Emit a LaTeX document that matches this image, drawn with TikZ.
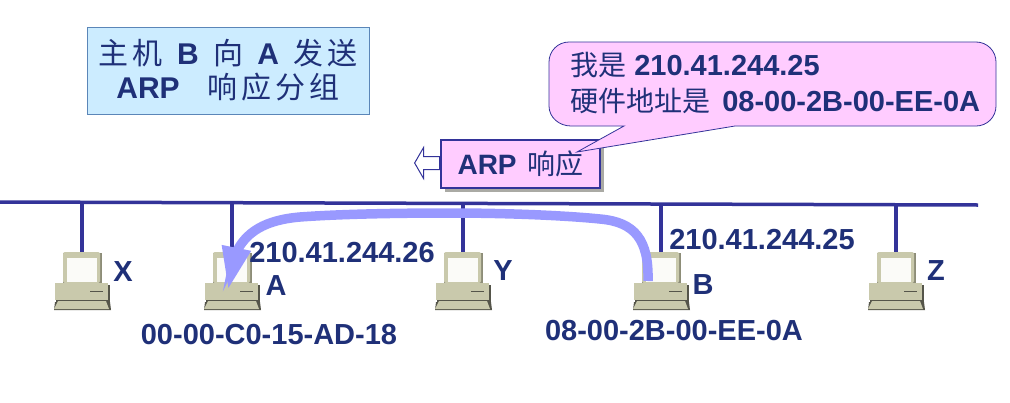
\documentclass[tikz,border=0pt]{standalone}
\usepackage{fontspec}
\setmainfont{Liberation Sans}
\newfontfamily\cjk{Noto Sans CJK SC}
\newfontfamily\cjkwide[LetterSpace=14]{Noto Sans CJK SC}
\usetikzlibrary{arrows.meta,shapes.arrows}
\newcommand{\zh}[1]{{\cjk\mdseries #1}}
\newcommand{\zhwide}[1]{{\cjkwide\mdseries #1}}
\definecolor{navy}{HTML}{1F3078}
\definecolor{busblue}{HTML}{333399}
\definecolor{flowblue}{HTML}{9999FF}
\definecolor{pinkfill}{HTML}{FFCCFF}
\definecolor{skyfill}{HTML}{CCECFF}
\definecolor{skyline}{HTML}{5B86B8}
\definecolor{pcbeige}{HTML}{C9C9AC}
\definecolor{pcdark}{HTML}{55554A}
\tikzset{
    label/.style={text=navy,font=\fontsize{29}{34}\selectfont\bfseries,inner sep=0pt},
    busline/.style={draw=busblue,line width=3.5pt},
    flowline/.style={draw=flowblue,line width=9.5pt,-{Triangle[length=43pt,width=27pt]}},
    pc/.pic={
        \fill[pcdark] (-27,50) -- (28,50) -- (29,58) -- (-28,58) -- cycle;
        \fill[pcdark] (-26,33) rectangle (28,50);
        \fill[pcbeige!70!black] (-19,1) rectangle (20,31);
        \fill[pcbeige,rounded corners=2pt] (-19,0) rectangle (18,31);
        \fill[white!92!pcbeige] (-15,6) rectangle (15,30);
        \fill[pcbeige] (-27,31) rectangle (26,48);
        \draw[pcdark,line width=1pt] (8,39) -- (21,39);
        \fill[pcbeige] (-24,49) -- (24,49) -- (27,57) -- (-28,57) -- cycle;
    }
}
\begin{document}
\begin{tikzpicture}[x=1pt,y=-1pt]
\useasboundingbox (0,0) rectangle (1010,402);
% Bus
\coordinate (busL) at (0,202);
\coordinate (busR) at (978,205);
\coordinate (busT) at (0,204);
\draw[busline] (busL) -- (busR);

% Computers
\coordinate (pcX) at (82,252);
\coordinate (pcA) at (232,252);
\coordinate (pcY) at (463,252);
\coordinate (pcB) at (661,252);
\coordinate (pcZ) at (896,252);
\draw[busline] (pcX) -- (pcX |- busT);
\draw[busline] (pcA) -- (pcA |- busT);
\draw[busline] (pcY) -- (pcY |- busT);
\draw[busline] (pcB) -- (pcB |- busT);
\draw[busline] (pcZ) -- (pcZ |- busT);
\pic at (pcX) {pc};
\pic at (pcA) {pc};
\pic at (pcY) {pc};
\pic at (pcB) {pc};
\pic at (pcZ) {pc};

% Route of the reply
\coordinate (flowB) at (648,281);
\coordinate (flowA) at (228,290);
\draw[flowline] (flowB) .. controls (649,240) and (635,222) .. (600,219)
    .. controls (560,215) and (500,213) .. (450,213)
    .. controls (400,213) and (340,214) .. (300,217)
    .. controls (265,220) and (245,232) .. (235,255) -- (flowA);

% Host labels
\node[label] (nameX) at (123,272) {X};
\node[label] (nameA) at (276,286) {A};
\node[label] (nameY) at (503,271) {Y};
\node[label] (nameB) at (703,285) {B};
\node[label] (nameZ) at (936,271) {Z};
\node[label] (ipA) at (342,253) {210.41.244.26};
\node[label] (ipB) at (762,240) {210.41.244.25};
\node[label] (macA) at (269,335) {00-00-C0-15-AD-18};
\node[label] (macB) at (674,331) {08-00-2B-00-EE-0A};

% Title box
\node[label,draw=skyline,line width=1pt,fill=skyfill,minimum width=282pt,minimum height=87pt,
      align=center] (title) at (228,70.5)
    {\fontsize{30}{36}\selectfont\zhwide{主机}\hspace{6pt} B \hspace{6pt}\zhwide{向}\hspace{6pt} A \hspace{6pt}\zhwide{发送}\\
     \fontsize{30}{36}\selectfont ARP \hspace{19pt}\zhwide{响应分组}\hspace{16pt}};

% Packet
\node[single arrow,draw=busblue,fill=white,line width=1pt,shape border rotate=180,inner xsep=0pt,inner ysep=6pt,
      minimum width=30pt,minimum height=25pt,single arrow head extend=9pt,
      single arrow tip angle=120] (back) at (429,163) {};
\fill[pcdark!50] (445,144) rectangle (604,192);
\node[label,draw=busblue,line width=1.5pt,fill=pinkfill,minimum width=159pt,minimum height=48pt] (packet) at (520.5,164)
    {\fontsize{28}{34}\selectfont ARP \hspace{3pt}\zh{响应}\hspace{10pt}};

% Speech bubble
\coordinate (tail) at (577,152);
\draw[draw=busblue,line width=.8pt,fill=pinkfill]
    (tail) -- (624,126) -- (571,126) to[out=180,in=-90] (549,106) -- (549,62) to[out=90,in=180] (569,42)
    -- (976,42) to[out=0,in=90] (996,62) -- (996,106) to[out=-90,in=0] (976,126) -- (735,126) -- cycle;
\node[label,anchor=west] (line1) at (570,65) {\fontsize{28}{34}\selectfont\zh{我是}\fontsize{29}{34}\selectfont\ 210.41.244.25};
\node[label,anchor=west] (line2) at (570,101) {\fontsize{28}{34}\selectfont\zh{硬件地址是}\hspace{4pt}\fontsize{29}{34}\selectfont\ 08-00-2B-00-EE-0A};
\end{tikzpicture}
\end{document}
